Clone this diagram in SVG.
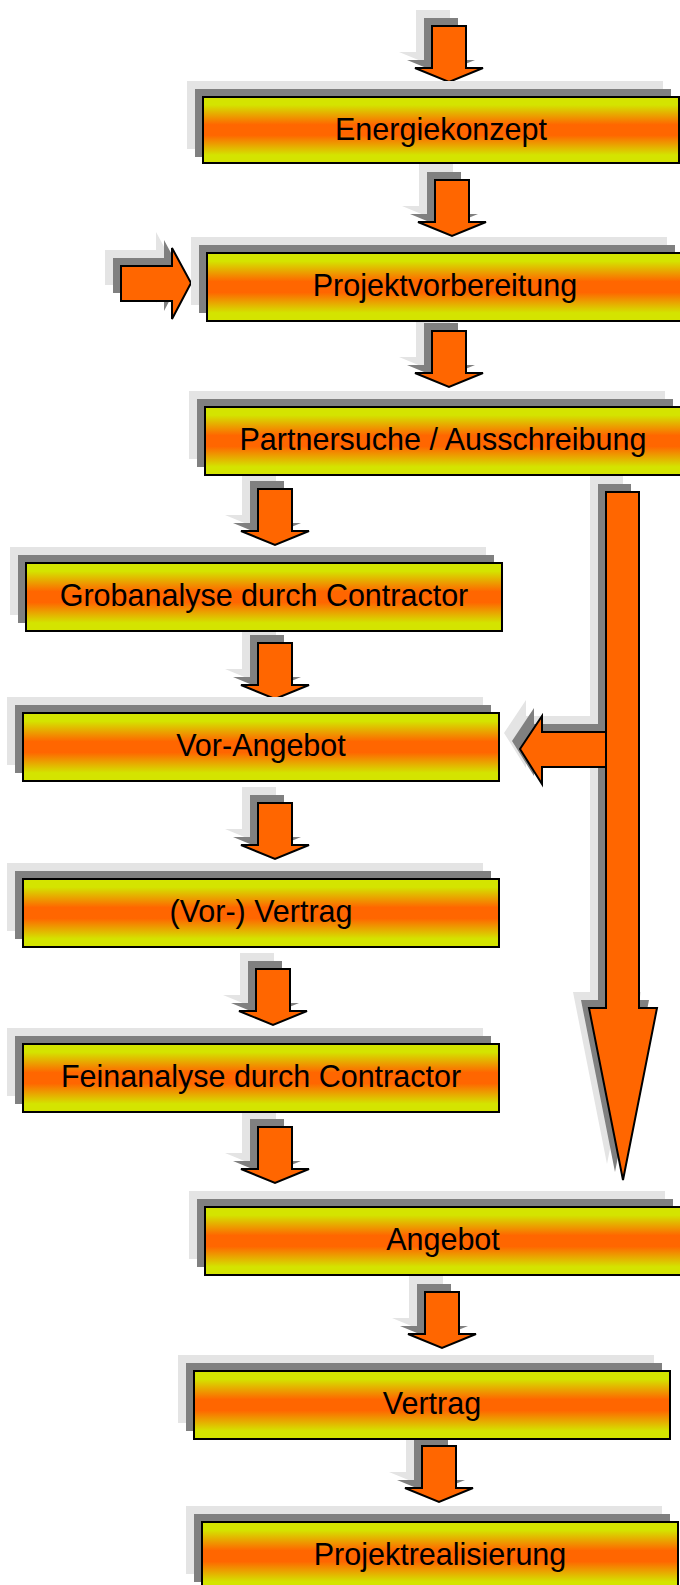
<svg xmlns="http://www.w3.org/2000/svg" xmlns:xlink="http://www.w3.org/1999/xlink" width="680" height="1585" viewBox="0 0 680 1585">
<style>
.box{fill:url(#g);stroke:#000;stroke-width:2}
.s1{fill:#e4e4e4}
.s2{fill:#808080}
.arr{fill:#ff6600;stroke:#000;stroke-width:2;stroke-linejoin:miter}
.t{font-family:"Liberation Sans",Arial,sans-serif;font-size:30.5px;fill:#000;text-anchor:middle}
</style>
<defs>
<linearGradient id="g" x1="0" y1="0" x2="0" y2="1">
<stop offset="0" stop-color="#d4e400"/>
<stop offset="0.12" stop-color="#d4e400"/>
<stop offset="0.42" stop-color="#ff6600"/>
<stop offset="0.58" stop-color="#ff6600"/>
<stop offset="0.88" stop-color="#d4e400"/>
<stop offset="1" stop-color="#d4e400"/>
</linearGradient>
<path id="da" d="M-17,0H17V42H34L0,56L-34,42H-17Z"/>
<rect id="bx" x="0" y="0" width="476" height="68"/>
</defs>
<rect width="680" height="1585" fill="#fff"/>
<g id="connectors">
<g id="a1" transform="translate(449,26)"><use href="#da" class="s1" x="-16" y="-16"/><use href="#da" class="s2" x="-8" y="-8"/><use href="#da" class="arr"/></g>
<g id="a2" transform="translate(452,180)"><use href="#da" class="s1" x="-16" y="-16"/><use href="#da" class="s2" x="-8" y="-8"/><use href="#da" class="arr"/></g>
<g id="a3" transform="translate(449,331)"><use href="#da" class="s1" x="-16" y="-16"/><use href="#da" class="s2" x="-8" y="-8"/><use href="#da" class="arr"/></g>
<g id="a4" transform="translate(275,489)"><use href="#da" class="s1" x="-16" y="-16"/><use href="#da" class="s2" x="-8" y="-8"/><use href="#da" class="arr"/></g>
<g id="a5" transform="translate(275,643)"><use href="#da" class="s1" x="-16" y="-16"/><use href="#da" class="s2" x="-8" y="-8"/><use href="#da" class="arr"/></g>
<g id="a6" transform="translate(275,803)"><use href="#da" class="s1" x="-16" y="-16"/><use href="#da" class="s2" x="-8" y="-8"/><use href="#da" class="arr"/></g>
<g id="a7" transform="translate(273,969)"><use href="#da" class="s1" x="-16" y="-16"/><use href="#da" class="s2" x="-8" y="-8"/><use href="#da" class="arr"/></g>
<g id="a8" transform="translate(275,1127)"><use href="#da" class="s1" x="-16" y="-16"/><use href="#da" class="s2" x="-8" y="-8"/><use href="#da" class="arr"/></g>
<g id="a9" transform="translate(442,1292)"><use href="#da" class="s1" x="-16" y="-16"/><use href="#da" class="s2" x="-8" y="-8"/><use href="#da" class="arr"/></g>
<g id="a10" transform="translate(439,1446)"><use href="#da" class="s1" x="-16" y="-16"/><use href="#da" class="s2" x="-8" y="-8"/><use href="#da" class="arr"/></g>
<g id="a-in">
<path class="s1" d="M105,250H156V232L175,267L156,303V285H105Z"/>
<path class="s2" d="M113,258H164V240L183,275L164,311V293H113Z"/>
<path class="arr" d="M121,266H172V248L191,283L172,319V301H121Z"/>
</g>
<g id="a-big">
<path class="s1" d="M590,716H526V700L504,733L526,768V751H590Z"/>
<path class="s1" d="M590,476H623V992H641L607,1164L573,992H590Z"/>
<path class="s2" d="M598,724H534V708L512,741L534,776V759H598Z"/>
<path class="s2" d="M598,484H631V1000H649L615,1172L581,1000H598Z"/>
<path class="arr" d="M606,732H542V716L520,749L542,784V767H606Z"/>
<path class="arr" d="M606,492H639V1008H657L623,1180L589,1008H606Z"/>
</g>
</g>
<g id="n1"><use href="#bx" class="s1" x="187" y="81" height="66"/><use href="#bx" class="s2" x="195" y="89"/><rect class="box" x="203" y="97" width="476" height="66"/><text class="t" x="441" y="140">Energiekonzept</text></g>
<g id="n2"><use href="#bx" class="s1" x="191" y="237"/><use href="#bx" class="s2" x="199" y="245"/><use href="#bx" class="box" x="207" y="253"/><text class="t" x="445" y="296">Projektvorbereitung</text></g>
<g id="n3"><use href="#bx" class="s1" x="189" y="391"/><use href="#bx" class="s2" x="197" y="399"/><use href="#bx" class="box" x="205" y="407"/><text class="t" x="443" y="450">Partnersuche / Ausschreibung</text></g>
<g id="n4"><use href="#bx" class="s1" x="10" y="547"/><use href="#bx" class="s2" x="18" y="555"/><use href="#bx" class="box" x="26" y="563"/><text class="t" x="264" y="606">Grobanalyse durch Contractor</text></g>
<g id="n5"><use href="#bx" class="s1" x="7" y="697"/><use href="#bx" class="s2" x="15" y="705"/><use href="#bx" class="box" x="23" y="713"/><text class="t" x="261" y="756">Vor-Angebot</text></g>
<g id="n6"><use href="#bx" class="s1" x="7" y="863"/><use href="#bx" class="s2" x="15" y="871"/><use href="#bx" class="box" x="23" y="879"/><text class="t" x="261" y="922">(Vor-) Vertrag</text></g>
<g id="n7"><use href="#bx" class="s1" x="7" y="1028"/><use href="#bx" class="s2" x="15" y="1036"/><use href="#bx" class="box" x="23" y="1044"/><text class="t" x="261" y="1087">Feinanalyse durch Contractor</text></g>
<g id="n8"><use href="#bx" class="s1" x="189" y="1191"/><use href="#bx" class="s2" x="197" y="1199"/><use href="#bx" class="box" x="205" y="1207"/><text class="t" x="443" y="1250">Angebot</text></g>
<g id="n9"><use href="#bx" class="s1" x="178" y="1355"/><use href="#bx" class="s2" x="186" y="1363"/><use href="#bx" class="box" x="194" y="1371"/><text class="t" x="432" y="1414">Vertrag</text></g>
<g id="n10"><use href="#bx" class="s1" x="186" y="1506"/><use href="#bx" class="s2" x="194" y="1514"/><use href="#bx" class="box" x="202" y="1522"/><text class="t" x="440" y="1565">Projektrealisierung</text></g>
</svg>
